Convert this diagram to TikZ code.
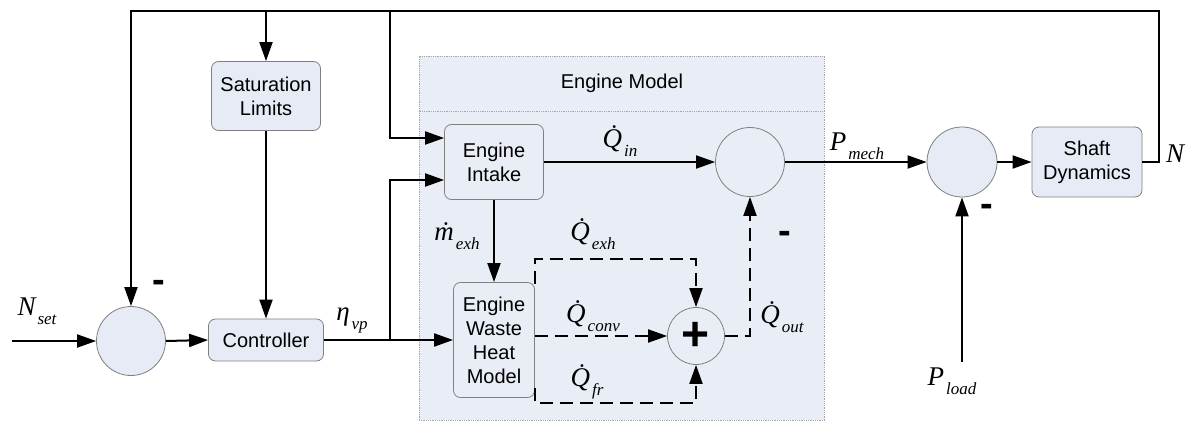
\documentclass[tikz,border=0pt]{standalone}
\usepackage{fontspec}
\setmainfont{Liberation Sans}
\newfontfamily\lbl{Liberation Serif}
\usetikzlibrary{arrows.meta}
\definecolor{boxfill}{HTML}{E6EBF5}
\definecolor{emfill}{HTML}{E9EDF6}
\definecolor{edge}{HTML}{808080}
\newcommand\vlab[2]{{\lbl\itshape\fontsize{27}{27}\selectfont #1\kern2pt\raisebox{-9pt}{\fontsize{17}{17}\selectfont #2}}}
\tikzset{
  blk/.style={draw=edge, line width=0.8pt, fill=boxfill, rounded corners=7pt, align=center,
    font=\fontsize{20}{24}\selectfont, inner sep=0pt},
  sumc/.style={circle, draw=edge, line width=0.8pt, fill=boxfill, inner sep=0pt},
  arr/.style={line width=2pt, -{Triangle[length=19pt,width=13pt]}},
  darr/.style={line width=2pt, dash pattern=on 13pt off 7pt, -{Triangle[length=19pt,width=13pt]}},
  lab/.style={inner sep=0pt},
  minus/.style={inner sep=0pt, font=\bfseries\fontsize{38}{38}\selectfont},
}
\begin{document}
\begin{tikzpicture}[x=1pt,y=-1pt]
\useasboundingbox (0,0) rectangle (1190,422);
% engine model frame
\node[draw=edge!70, densely dotted, line width=0.8pt, fill=emfill, minimum width=405pt, minimum height=364pt, inner sep=0pt] (em) at (621.5,238) {};
\draw[draw=edge!70, densely dotted, line width=0.8pt] (em.west |- 0,111) -- (em.east |- 0,111);
\node[lab, font=\fontsize{20}{24}\selectfont] (emt) at (622,83) {Engine Model};
% blocks
\node[sumc, minimum size=69pt] (c1) at (131,341) {};
\node[blk, minimum width=109pt, minimum height=69pt] (sat) at (266,96) {Saturation\\Limits};
\node[blk, minimum width=115pt, minimum height=42pt] (ctrl) at (266,340) {Controller};
\node[blk, fill=emfill, minimum width=99pt, minimum height=75pt] (intake) at (494,162) {Engine\\Intake};
\node[blk, fill=emfill, minimum width=81pt, minimum height=115pt] (waste) at (494,340) {Engine\\Waste\\Heat\\Model};
\node[sumc, fill=emfill, minimum size=69pt] (cin) at (750,162) {};
\node[sumc, fill=emfill, minimum size=57pt, font=\bfseries\fontsize{48}{48}\selectfont] (cplus) at (696,336) {\raisebox{-2pt}{+}};
\node[sumc, minimum size=70pt] (c3) at (962,162) {};
\node[blk, minimum width=110pt, minimum height=70pt] (shaft) at (1087,162) {Shaft\\Dynamics};
% free ends
\coordinate (nin) at (12,341);
\coordinate (br) at (390,340);
\coordinate (topR) at (1159,11);
\coordinate (pl) at (962,362);
\coordinate (qexh) at (696,259);
\coordinate (qfr) at (696,403);
% connectors
\draw[arr] (nin) -- (c1.west);
\draw[arr] (c1.east) -- (ctrl.west);
\draw[arr] (sat.south) -- (ctrl.north);
\draw[arr] (ctrl.east) -- (waste.west);
\draw[arr] (br) |- ([yshift=-18pt]intake.west);
\draw[arr] (shaft.east) -| (topR) -| (c1.north);
\draw[arr] (sat.north |- topR) -- (sat.north);
\draw[arr] (br |- topR) |- ([yshift=24pt]intake.west);
\draw[arr] (intake.south) -- (waste.north);
\draw[arr] (intake.east) -- (cin.west);
\draw[arr] (cin.east) -- (c3.west);
\draw[arr] (c3.east) -- (shaft.west);
\draw[arr] (pl) -- (c3.south);
\draw[darr] ([yshift=-2pt]waste.north east) |- (qexh) -- (cplus.north);
\draw[darr] (waste.east |- cplus) -- (cplus.west);
\draw[darr] ([yshift=10pt]waste.south east) |- (qfr) -- (cplus.south);
\draw[darr] (cplus.east) -| (cin.south);
% labels
\node[lab] (lnset) at (37,311) {\vlab{N}{set}};
\node[lab] (leta) at (352,320) {\vlab{η}{vp}};
\node[lab] (lm) at (457,236) {\vlab{\.{m}}{exh}};
\node[lab] (lqin) at (620,141) {\vlab{\.{Q}}{in}};
\node[lab] (lqexh) at (593,234) {\vlab{\.{Q}}{exh}};
\node[lab] (lqconv) at (593,316) {\vlab{\.{Q}}{conv}};
\node[lab] (lqfr) at (587,382) {\vlab{\.{Q}}{fr}};
\node[lab] (lqout) at (782,317) {\vlab{\.{Q}}{out}};
\node[lab] (lpm) at (857,146) {\vlab{P}{mech}};
\node[lab] (ln) at (1176,158) {\vlab{N}{}};
\node[lab] (lpl) at (952,381) {\vlab{P}{load}};
\node[minus] (m1) at (159,286) {-};
\node[minus] (m2) at (785,237) {-};
\node[minus] (m3) at (987,210) {-};
\end{tikzpicture}
\end{document}
